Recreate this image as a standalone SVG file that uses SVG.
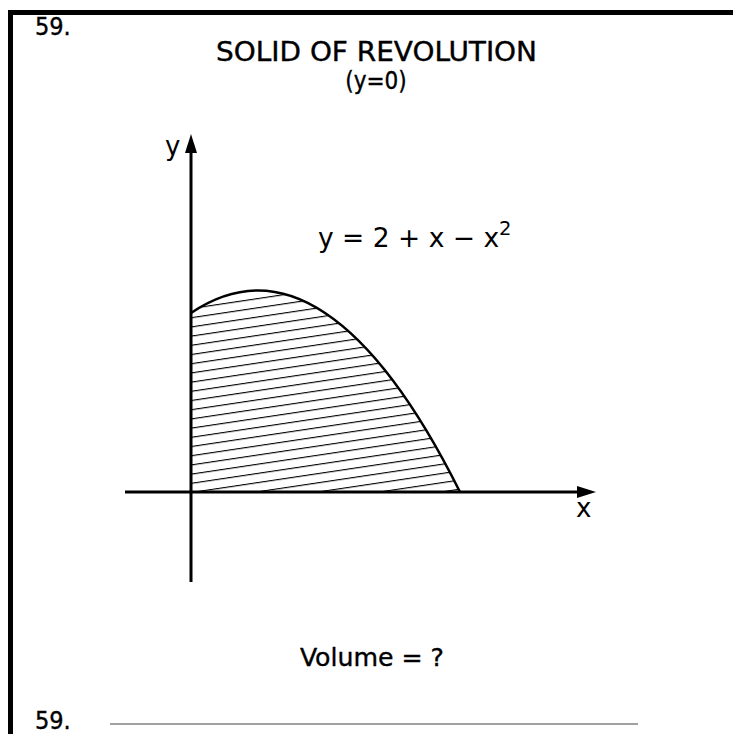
<svg xmlns="http://www.w3.org/2000/svg" width="733" height="734" viewBox="0 0 733 734">
<style>
.t{font-family:"DejaVu Sans Condensed","DejaVu Sans",sans-serif;fill:#000;stroke:#000;stroke-width:0.35}
.m{font-family:"DejaVu Sans",sans-serif;fill:#000}
.ax{stroke:#000;stroke-width:3;fill:none}
</style>
<defs>
<pattern id="hatch" patternUnits="userSpaceOnUse" width="40" height="9.1" patternTransform="translate(191 492) rotate(-8.5)">
<line x1="-5" y1="0.6" x2="45" y2="0.6" stroke="#000" stroke-width="1.2"/>
</pattern>
</defs>
<rect width="733" height="734" fill="#fff"/>
<path d="M10.5 734 V12.5 H733" fill="none" stroke="#000" stroke-width="5"/>
<g id="title">
<text class="t" x="35" y="35" font-size="25">59.</text>
<text class="t" x="216" y="61" font-size="26" textLength="321" lengthAdjust="spacingAndGlyphs">SOLID OF REVOLUTION</text>
<text class="t" x="376" y="89" font-size="24" text-anchor="middle">(y=0)</text>
</g>
<g id="region">
<path d="M191 492 V313 Q258 268 325 313 Q393 358 460 492 Z" fill="url(#hatch)"/>
<path d="M191 313 Q258 268 325 313 Q393 358 460 492" fill="none" stroke="#000" stroke-width="2.5"/>
</g>
<g id="connectors">
<line class="ax" x1="191" y1="582" x2="191" y2="150"/>
<polygon points="191,134 185,153 197,153" fill="#000"/>
<line class="ax" x1="125" y1="492" x2="580" y2="492"/>
<polygon points="596,492 577,486 577,498" fill="#000"/>
</g>
<g id="labels">
<text class="m" x="165" y="155" font-size="26">y</text>
<text class="m" x="576" y="517" font-size="26">x</text>
<text class="m" x="318" y="247" font-size="26.5">y = 2 + x − x<tspan dy="-12" font-size="19.5">2</tspan></text>
</g>
<g id="bottom">
<text class="t" x="300" y="666" font-size="25" textLength="144" lengthAdjust="spacingAndGlyphs">Volume = ?</text>
<text class="t" x="35" y="729" font-size="25">59.</text>
<line x1="110" y1="724" x2="638" y2="724" stroke="#444" stroke-width="1.2"/>
</g>
</svg>
